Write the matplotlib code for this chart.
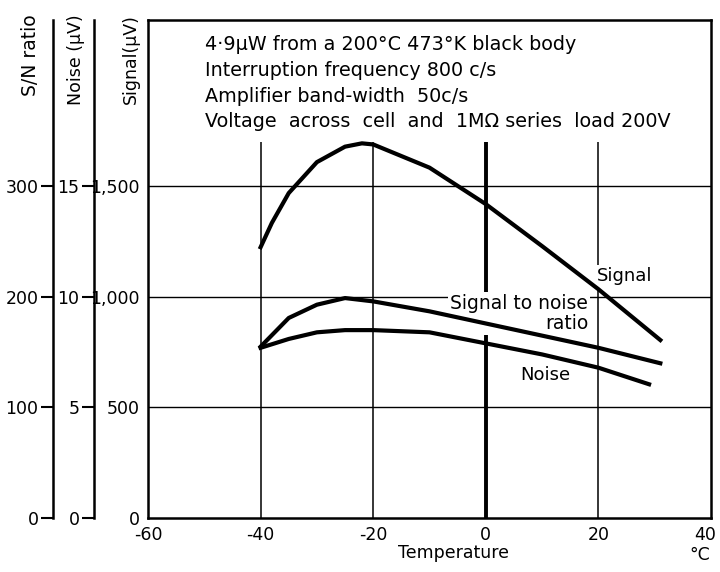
import matplotlib
matplotlib.use("Agg")
import matplotlib.pyplot as plt
from matplotlib.transforms import ScaledTranslation

# Data (temperature in deg C)
signal_temp = [-40, -38, -35, -30, -25, -22, -20, -10, 0, 10, 20, 31]
signal_uv = [1225, 1335, 1470, 1610, 1680, 1695, 1690, 1585, 1420, 1230, 1035, 805]

snr_temp = [-40, -35, -30, -25, -20, -10, 0, 10, 20, 31]
snr_ratio = [155, 181, 193, 199, 196, 187, 176, 165, 154, 140]

noise_temp = [-40, -35, -30, -25, -20, -10, 0, 10, 20, 29]
noise_uv = [7.7, 8.1, 8.4, 8.5, 8.5, 8.4, 7.9, 7.4, 6.8, 6.05]

x_ticks = [-60, -40, -20, 0, 20, 40]
x_tick_labels = ["-60", "-40", "-20", "0", "20", "40"]
signal_ticks = [0, 500, 1000, 1500]
signal_tick_labels = ["0", "500", "1,000", "1,500"]
noise_ticks = [0, 5, 10, 15]
snr_ticks = [0, 100, 200, 300]
grid_temps = [-40, -20, 0, 20]

notes = [
    "4\u00b79\u03bcW from a 200\u00b0C 473\u00b0K black body",
    "Interruption frequency 800 c/s",
    "Amplifier band-width  50c/s",
    "Voltage  across  cell  and  1M\u03a9 series  load 200V",
]

W, H = 720, 572
FS = 12.5
YMAX = 2253  # signal scale top

fig = plt.figure(figsize=(7.2, 5.72), dpi=100)
left, right, bottom, top = 148 / W, 711 / W, 1 - 518 / H, 1 - 20 / H
ax = fig.add_axes([left, bottom, right - left, top - bottom])
ax.set_xlim(-60, 40)
ax.set_ylim(0, YMAX)

for s in ax.spines.values():
    s.set_linewidth(1.8)

# grid
for y in signal_ticks[1:]:
    ax.axhline(y, color="black", lw=1.0, zorder=1)
for t in grid_temps:
    ax.vlines(t, 0, 1700, color="black", lw=2.8 if t == 0 else 1.1, zorder=1)

ax.set_xticks(x_ticks)
ax.set_xticklabels(x_tick_labels, fontsize=FS)
ax.set_yticks(signal_ticks)
ax.set_yticklabels(signal_tick_labels, fontsize=FS)
ax.tick_params(axis="both", length=0, pad=6)

# keep the last x label inside the picture
last = ax.get_xticklabels()[-1]
last.set_transform(last.get_transform() + ScaledTranslation(-4 / 72, 0, fig.dpi_scale_trans))

# curves (all plotted on the signal scale: 1 S/N unit = 5 uV, 1 noise uV = 100 uV)
ax.plot(signal_temp, signal_uv, color="black", lw=3, zorder=3)
ax.plot(snr_temp, [v * 5 for v in snr_ratio], color="black", lw=3, zorder=3)
ax.plot(noise_temp, [v * 100 for v in noise_uv], color="black", lw=3, zorder=3)

box = dict(facecolor="white", edgecolor="none", pad=1.5)
ax.text(19.8, 1095, "Signal", fontsize=13, ha="left", va="center", bbox=box, zorder=2)
ax.text(18.2, 925, "Signal to noise\nratio", fontsize=13.5, ha="right", va="center",
        multialignment="right", linespacing=1.1, bbox=box, zorder=2)
ax.text(10.5, 647, "Noise", fontsize=13, ha="center", va="center", zorder=2)

for i, line in enumerate(notes):
    fig.text(205 / W, 1 - (45 + 25.5 * i) / H, line, fontsize=13.75, ha="left", va="center")


def side_axis(offset, ymax, ticks):
    a = ax.twinx()
    a.set_ylim(0, ymax)
    for s in ["right", "top", "bottom"]:
        a.spines[s].set_visible(False)
    a.spines["left"].set_visible(True)
    a.spines["left"].set_position(("axes", offset))
    a.spines["left"].set_linewidth(1.8)
    a.yaxis.set_ticks_position("left")
    a.set_yticks(ticks)
    a.set_yticklabels([str(t) for t in ticks], fontsize=FS)
    a.tick_params(axis="y", direction="out", length=8.5, width=1.5, pad=2)
    return a


side_axis((94 - 148) / (711 - 148), YMAX / 100, noise_ticks)
side_axis((53 - 148) / (711 - 148), YMAX / 5, snr_ticks)

fig.text(30 / W, 1 - 14 / H, "S/N ratio", rotation=90, fontsize=13.5, ha="center", va="top")
fig.text(76 / W, 1 - 14 / H, "Noise (\u03bcV)", rotation=90, fontsize=FS, ha="center", va="top")
fig.text(131 / W, 1 - 14 / H, "Signal(\u03bcV)", rotation=90, fontsize=FS, ha="center", va="top")

fig.text(453 / W, 1 - 553 / H, "Temperature", fontsize=FS, ha="center", va="center")
fig.text(700 / W, 1 - 555 / H, "\u00b0C", fontsize=FS, ha="center", va="center")

fig.savefig("out.png", dpi=100)
